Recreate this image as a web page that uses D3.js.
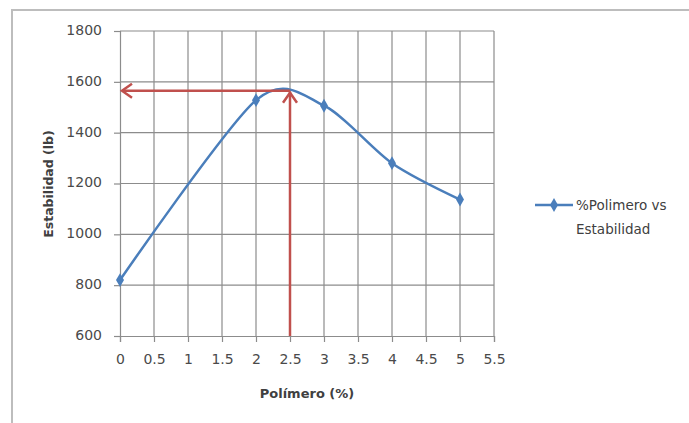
<!DOCTYPE html>
<html><head><meta charset="utf-8">
<script src="https://cdn.jsdelivr.net/npm/d3@7"></script>
<style>body{margin:0;background:#fff}svg{display:block}</style>
</head><body>
<svg id="c" width="689" height="423"></svg>
<script>
const xValues = [0, 2, 3, 4, 5];
const yValues = [820, 1528, 1506, 1280, 1137];
const xTicks = [0, 0.5, 1, 1.5, 2, 2.5, 3, 3.5, 4, 4.5, 5, 5.5];
const yTicks = [600, 800, 1000, 1200, 1400, 1600, 1800];
const markX = [2.5];
const markY = [1565];
const seriesName = ["%Polimero vs", "Estabilidad"];

const svg = d3.select("#c");
const font = "'DejaVu Sans', sans-serif";
const x = d3.scaleLinear().domain([0, 5.5]).range([120, 494]);
const y = d3.scaleLinear().domain([600, 1800]).range([336, 31]);

// outer chart border
svg.append("path").attr("d", "M12,430 L12,10 L700,10").attr("fill", "none").attr("stroke", "#bdbdbd").attr("stroke-width", 2);

// grid
const g = svg.append("g");
g.selectAll(".gx").data(xTicks.slice(1)).enter().append("line")
  .attr("x1", d => x(d)).attr("x2", d => x(d)).attr("y1", y(1800)).attr("y2", y(600))
  .attr("stroke", "#8c8c8c").attr("stroke-width", 1.2);
g.selectAll(".gy").data(yTicks.slice(1)).enter().append("line")
  .attr("x1", x(0)).attr("x2", x(5.5)).attr("y1", d => y(d)).attr("y2", d => y(d))
  .attr("stroke", "#8c8c8c").attr("stroke-width", 1.2);

// axes
const ax = svg.append("g").attr("transform", `translate(0,${y(600)})`)
  .call(d3.axisBottom(x).tickValues(xTicks).tickSize(6).tickPadding(12).tickFormat(d => String(d)));
const ay = svg.append("g").attr("transform", `translate(${x(0)},0)`)
  .call(d3.axisLeft(y).tickValues(yTicks).tickSize(6).tickPadding(12).tickFormat(d => String(d)));
[ax, ay].forEach(a => {
  a.select(".domain").attr("stroke", "#8c8c8c").attr("stroke-width", 1.2);
  a.selectAll(".tick line").attr("stroke", "#8c8c8c").attr("stroke-width", 1.2);
  a.selectAll("text").attr("font-family", font).attr("font-size", 14).attr("fill", "#4a4a4a");
});
ay.selectAll(".tick text").attr("transform", "translate(0,-1)");

// titles
svg.append("text").attr("x", 307).attr("y", 398).attr("text-anchor", "middle")
  .attr("font-family", font).attr("font-size", 13).attr("font-weight", "bold").attr("fill", "#404040")
  .text("Polímero (%)");
svg.append("text").attr("transform", `translate(53,184) rotate(-90)`).attr("text-anchor", "middle")
  .attr("font-family", font).attr("font-size", 12.5).attr("font-weight", "bold").attr("fill", "#404040")
  .text("Estabilidad (lb)");

// series
const pts = xValues.map((d, i) => [x(d), y(yValues[i])]);
const blue = "#4a7ebb";
svg.append("path").attr("d", d3.line().curve(d3.curveCardinal.tension(0.15))(pts))
  .attr("fill", "none").attr("stroke", blue).attr("stroke-width", 2.5);
const diamond = d3.symbol().type(d3.symbolDiamond).size(55);
svg.selectAll(".m").data(pts).enter().append("path")
  .attr("d", diamond).attr("transform", d => `translate(${d[0]},${d[1]})`).attr("fill", blue);

// red arrows
const red = "#c0504d";
const px = x(markX[0]), py = y(markY[0]);
svg.append("line").attr("x1", px).attr("y1", py).attr("x2", x(0) + 2).attr("y2", py)
  .attr("stroke", red).attr("stroke-width", 2.5);
svg.append("path").attr("d", `M${x(0)+12},${py-7} L${x(0)+2},${py} L${x(0)+12},${py+7}`)
  .attr("fill", "none").attr("stroke", red).attr("stroke-width", 2.5);
svg.append("line").attr("x1", px).attr("y1", y(600)).attr("x2", px).attr("y2", py + 1)
  .attr("stroke", red).attr("stroke-width", 2.5);
svg.append("path").attr("d", `M${px-7},${py+12} L${px},${py+2} L${px+7},${py+12}`)
  .attr("fill", "none").attr("stroke", red).attr("stroke-width", 2.5);

// legend
svg.append("line").attr("x1", 535).attr("x2", 573).attr("y1", 205).attr("y2", 205)
  .attr("stroke", blue).attr("stroke-width", 2.5);
svg.append("path").attr("d", diamond).attr("transform", "translate(554,205)").attr("fill", blue);
svg.append("text").attr("x", 576).attr("y", 210).attr("font-family", font).attr("font-size", 13.5).attr("fill", "#404040").text(seriesName[0]);
svg.append("text").attr("x", 576).attr("y", 234).attr("font-family", font).attr("font-size", 13.5).attr("fill", "#404040").text(seriesName[1]);
</script>
</body></html>
